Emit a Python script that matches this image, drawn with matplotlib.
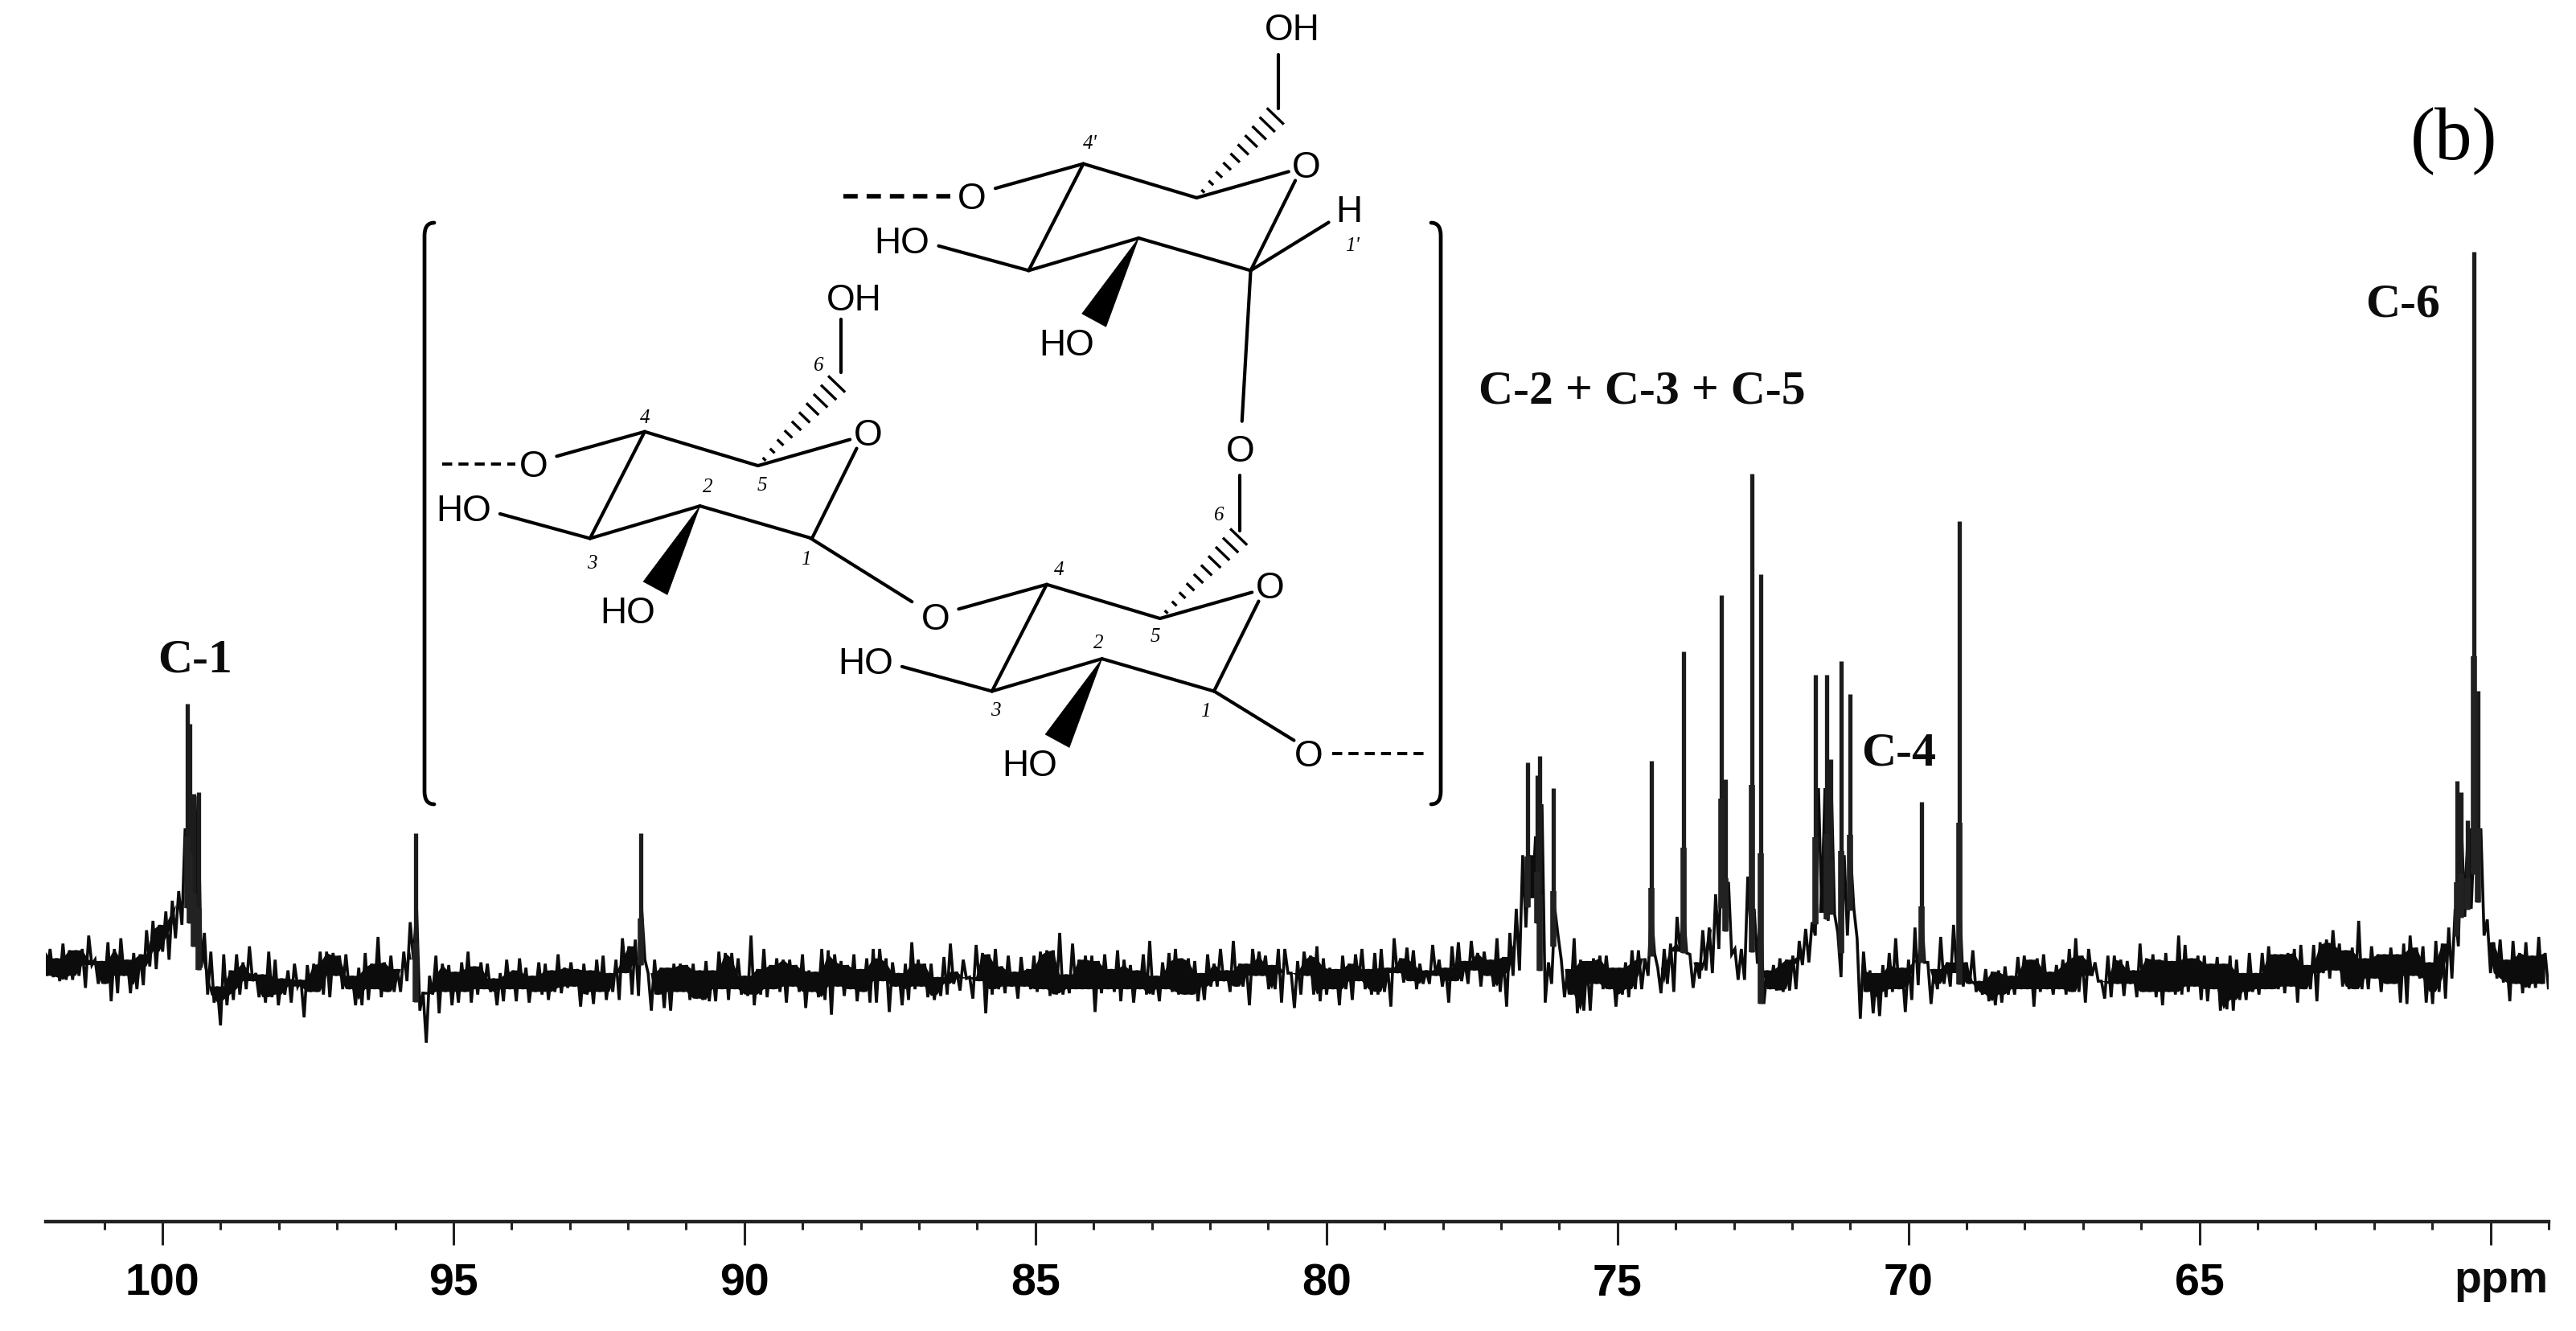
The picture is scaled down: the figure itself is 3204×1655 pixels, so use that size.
import numpy as np
import matplotlib
matplotlib.use("Agg")
import matplotlib.pyplot as plt
from matplotlib.patches import PathPatch, Polygon
from matplotlib.path import Path
from matplotlib.ticker import FixedLocator, FixedFormatter

# ---- spectrum readings: upper / lower edge of the noisy trace, as depth below a reference level ----
hi_1 = [145,150,185,130,155,155,150,100,190,195,125,150,110,190,165,170,80,45,60,10,-30,-66,-300,-420,-420,
        90,160,290,170,230,170,200,140,240,245,160,190,260,230,205,265,210,205,160,160,165,175,170,250,220,
        165,205,105,200,175,225,160,50,0,310,250,175,205,210,235]
lo_1 = [250,255,270,265,265,250,295,210,280,280,345,315,250,315,300,285,215,225,160,190,110,60,-60,100,220,
        320,350,435,360,340,320,300,270,330,350,330,360,320,350,290,405,310,310,320,330,250,300,300,360,360,
        340,300,330,310,310,310,270,190,380,500,320,390,310,360,350]
hi_2 = [200,160,215,200,205,260,240,190,230,185,220,250,200,205,230,170,220,200,225,205,230,190,175,240,190,
        110,140,115,0,240,190,220,220,205,205,210,205,230,195,230,160,165,165,185,250,100,225,150,210,185,
        190,190,210,170,230,235,150,155,170,195,210,170,225,185,150]
lo_2 = [310,350,320,300,310,360,345,300,345,300,350,310,320,340,310,315,295,290,365,320,355,310,340,310,340,
        240,320,325,190,380,320,370,380,310,310,340,335,340,345,345,300,340,300,320,325,360,320,330,300,310,
        350,290,310,370,310,330,340,395,290,325,300,345,310,350,350]
hi_3 = [150,185,200,240,205,125,190,205,205,255,180,130,235,190,255,135,165,170,150,215,175,235,180,225,175,
        160,155,155,90,245,130,190,175,175,195,170,225,155,190,210,230,170,120,250,200,165,150,185,185,195,
        240,170,205,150,230,120,205,205,150,160,175,210,150,150,240]
lo_3 = [270,385,290,360,340,300,290,330,340,325,320,280,305,260,335,270,390,320,300,315,290,335,290,300,310,
        300,325,320,320,315,300,300,300,385,315,300,310,345,300,350,300,320,320,345,300,310,320,320,320,345,
        340,290,290,270,310,290,290,360,250,250,300,300,350,240,370]
hi_4 = [195,160,175,140,185,220,225,175,205,170,150,225,165,150,220,110,185,145,155,205,230,135,190,220,140,
        125,195,120,165,160,190,110,180,90,0,-200,-200,-270,-390,200,0,190,225,110,190,195,185,175,175,220,
        220,200,155,155,185,0,220,150,130,30,0,170,200,80,70]
lo_4 = [320,250,320,345,320,300,360,300,340,270,300,320,320,310,365,240,275,270,300,280,280,250,290,350,270,
        270,280,230,290,250,290,310,365,250,230,70,-40,-40,350,280,100,330,320,390,380,380,280,300,300,365,
        320,330,300,300,250,165,315,280,310,160,165,295,260,230,240]
hi_5 = [-54,-300,-100,150,150,-120,0,0,230,210,185,190,175,120,75,50,-450,-450,-450,90,-200,-200,110,160,230,
        240,210,165,110,220,190,70,0,200,225,105,200,60,0,200,155,270,225,235,230,215,250,180,175,190,
        185,170,235,210,190,150,110,175,150,200,270,175,175,190,195]
lo_5 = [150,-30,170,265,265,90,205,355,300,305,310,305,300,210,200,100,15,45,20,255,100,0,410,310,390,
        400,330,310,300,385,340,285,200,355,300,280,290,240,290,280,310,320,345,360,350,320,320,300,300,365,
        310,300,320,300,320,310,310,350,250,270,335,330,280,325,280]
hi_6 = [230,130,185,170,190,165,195,100,135,185,175,175,205,180,205,175,190,240,165,240,165,140,170,170,165,
        150,135,210,135,125,115,80,130,155,145,45,185,140,170,170,145,170,130,100,145,140,200,120,130,70,
        0,-300,-300,-300,-300,40,125,115,190,120,165,125,175,105,165]
lo_6 = [330,310,310,330,360,310,320,320,310,290,340,345,300,380,375,380,340,340,310,320,300,300,300,315,290,
        350,300,300,345,240,260,230,290,300,300,300,300,260,310,280,280,350,355,250,260,350,355,310,335,260,
        140,30,0,-150,100,240,260,275,345,280,315,295,295,280,295]

# ---- sharp resonances ----
peak_ppm = [99.57, 99.53, 99.46, 99.38, 95.65, 91.78,
            76.55, 76.38, 76.33, 76.10, 74.41, 73.87, 73.22, 73.14, 72.69, 72.54,
            71.60, 71.41, 71.33, 71.15, 71.00, 69.78, 69.13,
            60.57, 60.50, 60.40, 60.29, 60.22]
peak_height = [1305, 1230, 969, 975, 822, 822,
               1086, 1038, 1110, 990, 1092, 1500, 1710, 1023, 2163, 1788,
               1413, 1413, 1098, 1464, 1341, 939, 1986,
               1017, 975, 870, 2991, 1353]

major_ticks = [100, 95, 90, 85, 80, 75, 70, 65, 60]
minor_ticks = [101, 99, 98, 97, 96, 94, 93, 92, 91, 89, 88, 87, 86, 84, 83, 82, 81,
               79, 78, 77, 76, 74, 73, 72, 71, 69, 68, 67, 66, 64, 63, 62, 61, 59]
major_labels = ["100", "95", "90", "85", "80", "75", "70", "65", ""]

W, H = 3205, 1655
INK = "#0c0c0c"
plt.rcParams["font.family"] = ["Liberation Sans", "DejaVu Sans"]
fig = plt.figure(figsize=(W / 100, H / 100), dpi=100, facecolor="white")

# ---- spectrum axes ----
L, R, B = 57.2, 3170.0, 1519.0
ax = fig.add_axes([L / W, (H - B) / H, (R - L) / W, B / H])
ax.set_xlim(102, 59)
ax.set_ylim(3 * (1310 - B), 3 * 1310)
ax.patch.set_alpha(0)
for s in ("left", "right", "top"):
    ax.spines[s].set_visible(False)
ax.spines["bottom"].set_linewidth(3.2)
ax.spines["bottom"].set_color("#222222")
ax.set_yticks([])
ax.xaxis.set_major_locator(FixedLocator(major_ticks))
ax.xaxis.set_major_formatter(FixedFormatter(major_labels))
ax.xaxis.set_minor_locator(FixedLocator(minor_ticks))
ax.tick_params(axis="x", which="major", length=21, width=2.2, pad=16, labelsize=40, color="#222222")
ax.tick_params(axis="x", which="minor", length=7.5, width=2.2, color="#222222")
for t in ax.get_xticklabels():
    t.set_fontweight("bold")

hi_all = [hi_1, hi_2, hi_3, hi_4, hi_5, hi_6]
lo_all = [lo_1, lo_2, lo_3, lo_4, lo_5, lo_6]
for a, b in zip(hi_all, lo_all):
    assert len(a) == 65 and len(b) == 65, (len(a), len(b))
upper = 540 - np.concatenate(hi_all).astype(float)
lower = 540 - np.concatenate(lo_all).astype(float)
grid = np.linspace(102.04, 59.06, upper.size)
step = grid[0] - grid[1]
trace_x = np.column_stack([grid, grid - step / 2]).ravel()
trace_y = np.column_stack([upper, lower]).ravel()

# solid core of the noise band plus the spiky edges
core_top = np.minimum.reduce([np.r_[upper[0], upper[:-1]], upper, np.r_[upper[1:], upper[-1]]])
core_bot = np.maximum.reduce([np.r_[lower[0], lower[:-1]], lower, np.r_[lower[1:], lower[-1]]])
ax.fill_between(grid, core_bot, core_top, where=core_top > core_bot, color=INK, lw=0, interpolate=True)
ax.plot(trace_x, trace_y, color=INK, lw=2.6, solid_joinstyle="miter")

base = np.interp(peak_ppm, grid[::-1], lower[::-1])
height = np.array(peak_height, dtype=float)
ax.vlines(peak_ppm, base, height, color="#1c1c1c", lw=3.8)
ax.vlines(peak_ppm, base, base + 0.35 * (height - base), color="#222222", lw=5.5)

# ---- overlay in pixel coordinates for labels and the chemical structure ----
ov = fig.add_axes([0, 0, 1, 1])
ov.set_xlim(0, W)
ov.set_ylim(H, 0)
ov.axis("off")
ov.patch.set_alpha(0)

SERIF = "Liberation Serif"
for txt, x, y in [("C-1", 243, 821), ("C-2 + C-3 + C-5", 2042, 488), ("C-4", 2362, 937), ("C-6", 2989, 379)]:
    ov.text(x, y, txt, family=SERIF, weight="bold", fontsize=43, ha="center", va="center", color=INK)
ov.text(3052, 176, "(b)", family=SERIF, fontsize=67, ha="center", va="center", color="black")
ov.text(3111, 1593, "ppm", weight="bold", fontsize=40, ha="center", va="center", color=INK)


def P(zx, zy):
    # structure sketch coordinates -> figure pixels
    return 500 + zx / 1.206, zy / 1.537


def bond(a, b, lw=3.0, **kw):
    (x0, y0), (x1, y1) = P(*a), P(*b)
    ov.plot([x0, x1], [y0, y1], color="black", lw=lw, solid_capstyle="round", **kw)


def dashed(a, b, lw=3.0):
    (x0, y0), (x1, y1) = P(*a), P(*b)
    ov.plot([x0, x1], [y0, y1], color="black", lw=lw, ls=(0, (3.2, 2.0)))


def label(zx, zy, txt, size=33):
    x, y = P(zx, zy)
    ov.text(x, y + 4, txt, fontsize=size, ha="center", va="center", color="black")


def num(zx, zy, txt):
    x, y = P(zx, zy)
    ov.text(x, y, txt, family=SERIF, style="italic", fontsize=18, ha="center", va="center", color="black")


def wedge(tip, c, half=17):
    (x0, y0), (x1, y1) = P(*tip), P(*c)
    d = np.array([x1 - x0, y1 - y0])
    n = np.array([-d[1], d[0]]) / np.hypot(*d) * half
    ov.add_patch(Polygon([(x0, y0), (x1 + n[0], y1 + n[1]), (x1 - n[0], y1 - n[1])], closed=True,
                         fc="black", ec="black", lw=0.5))


def hashed(tip, c, half=13, count=10):
    (x0, y0), (x1, y1) = P(*tip), P(*c)
    d = np.array([x1 - x0, y1 - y0])
    n = np.array([-d[1], d[0]]) / np.hypot(*d)
    for f in np.linspace(0.08, 1, count):
        m = np.array([x0, y0]) + d * f
        h = half * f
        ov.plot([m[0] - n[0] * h, m[0] + n[0] * h], [m[1] - n[1] * h, m[1] + n[1] * h], color="black", lw=2.4)


# template ring (top residue), with the two others shifted by a constant offset
def ring(dx, dy, nums):
    def s(p):
        return p[0] + dx, p[1] + dy
    C4, C5, C1, C2, C3 = (1022, 313), (1192, 378), (1273, 517), (1105, 455), (940, 517)
    bond(s(C4), s(C5))
    bond(s(C5), s((1330, 328)))
    bond(s((1340, 345)), s(C1))
    bond(s(C1), s(C2))
    bond(s(C2), s(C3))
    bond(s(C3), s(C4))
    label(*s((1357, 315)), "O")                # ring oxygen
    bond(s((890, 360)), s(C4))                 # O-4
    label(*s((855, 375)), "O")
    bond(s((805, 470)), s(C3))                 # OH-3
    label(*s((750, 460)), "HO")
    wedge(s(C2), s((1038, 612)))               # OH-2
    label(*s((997, 655)), "HO")
    hashed(s(C5), s((1310, 222)))              # C-6
    for (zx, zy), t in nums:
        num(*s((zx, zy)), t)


ring(0, 0, [((1032, 275), "4'"), ((1425, 470), "1'")])
ring(-658, 512, [((1022, 288), "4"), ((1117, 420), "2"), ((1198, 416), "5"), ((1264, 558), "1"),
                 ((943, 566), "3"), ((1283, 188), "6")])
ring(-55, 804, [((1040, 286), "4"), ((1100, 426), "2"), ((1185, 414), "5"), ((1260, 556), "1"),
                ((945, 554), "3"), ((1280, 181), "6")])

# top residue extras
bond((1315, 208), (1315, 105))
label(1335, 52, "OH")
bond((1273, 517), (1390, 425))
label(1420, 400, "H")
dashed((662, 375), (822, 375), lw=4.0)
# left residue extras
bond((658, 712), (658, 610))
label(678, 568, "OH")
dashed((60, 887), (170, 887), lw=2.8)
bond((612, 1028), (765, 1150))
# link from lower residue to top residue
bond((1257, 1015), (1257, 908))
label(1257, 857, "O")
bond((1260, 805), (1273, 517))
# lower residue extras
bond((1217, 1320), (1338, 1415))
label(1360, 1440, "O")
dashed((1395, 1440), (1540, 1440), lw=2.8)

# brackets with rounded corners
def bracket(x, hook, top, bot):
    verts = [(x + hook, top), (x, top), (x, top + 16), (x, bot - 16), (x, bot), (x + hook, bot)]
    codes = [Path.MOVETO, Path.CURVE3, Path.CURVE3, Path.LINETO, Path.CURVE3, Path.CURVE3]
    ov.add_patch(PathPatch(Path(verts, codes), fc="none", ec="black", lw=3.4, capstyle="round", joinstyle="round"))


bracket(528, 12, 277, 1000)
bracket(1792, -12, 277, 1000)

fig.savefig("out.png", dpi=100, facecolor="white")
